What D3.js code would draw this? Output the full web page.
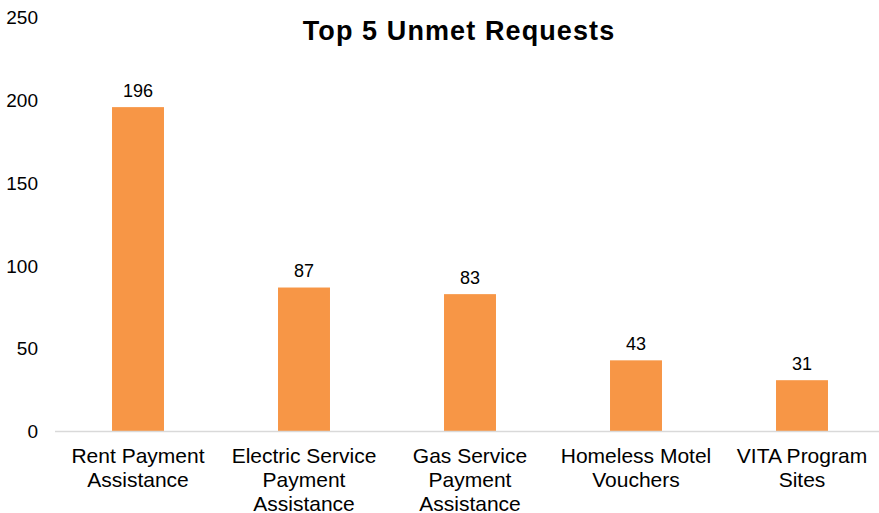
<!DOCTYPE html>
<html>
<head>
<meta charset="utf-8">
<script src="https://cdn.jsdelivr.net/npm/d3@7"></script>
<style>
  body { margin: 0; background: #fff; }
  text { font-family: "Liberation Sans", Arial, sans-serif; fill: #000; }
</style>
</head>
<body>
<svg width="879" height="513"></svg>
<script>
var categories = [
  ["Rent Payment", "Assistance"],
  ["Electric Service", "Payment", "Assistance"],
  ["Gas Service", "Payment", "Assistance"],
  ["Homeless Motel", "Vouchers"],
  ["VITA Program", "Sites"]
];
var values = [196, 87, 83, 43, 31];
var yTicks = [0, 50, 100, 150, 200, 250];

var svg = d3.select("svg");

var x = d3.scaleBand()
    .domain(d3.range(values.length))
    .range([55, 885])
    .paddingInner(0.687)
    .paddingOuter(0.3435);

var y = d3.scaleLinear()
    .domain([0, 250])
    .range([431.5, 17.75]);

// title
svg.append("text")
    .attr("x", 459)
    .attr("y", 40)
    .attr("text-anchor", "middle")
    .style("font-size", "27px")
    .style("font-weight", "bold")
    .style("letter-spacing", "1.1px")
    .text("Top 5 Unmet Requests");

// y labels, no axis line
svg.append("g").selectAll("text")
    .data(yTicks)
  .enter().append("text")
    .attr("x", 38)
    .attr("y", function(d) { return y(d); })
    .attr("dy", "0.35em")
    .attr("text-anchor", "end")
    .style("font-size", "19px")
    .text(function(d) { return d; });

// bars
svg.append("g").selectAll("rect")
    .data(values)
  .enter().append("rect")
    .attr("x", function(d, i) { return x(i); })
    .attr("y", function(d) { return y(d); })
    .attr("width", x.bandwidth())
    .attr("height", function(d) { return y(0) - y(d); })
    .attr("fill", "#f79646");

// value labels
svg.append("g").selectAll("text")
    .data(values)
  .enter().append("text")
    .attr("x", function(d, i) { return x(i) + x.bandwidth() / 2; })
    .attr("y", function(d) { return y(d) - 10.5; })
    .attr("text-anchor", "middle")
    .style("font-size", "18px")
    .text(function(d) { return d; });

// x axis line
svg.append("line")
    .attr("x1", 55)
    .attr("x2", 879)
    .attr("y1", y(0))
    .attr("y2", y(0))
    .attr("stroke", "#d9d9d9")
    .attr("stroke-width", 1.5);

// category labels
var cat = svg.append("g").selectAll("text")
    .data(categories)
  .enter().append("text")
    .attr("x", function(d, i) { return x(i) + x.bandwidth() / 2; })
    .attr("y", 463)
    .attr("text-anchor", "middle")
    .style("font-size", "21px");

cat.selectAll("tspan")
    .data(function(d) { return d; })
  .enter().append("tspan")
    .attr("x", function() { return d3.select(this.parentNode).attr("x"); })
    .attr("dy", function(d, i) { return i === 0 ? 0 : 24; })
    .text(function(d) { return d; });
</script>
</body>
</html>
